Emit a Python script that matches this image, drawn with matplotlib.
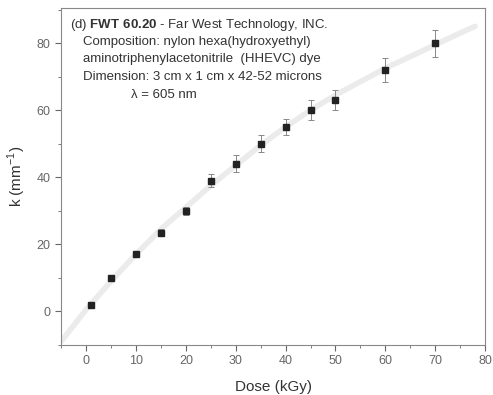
import matplotlib
matplotlib.use("Agg")
import matplotlib.pyplot as plt
from matplotlib.ticker import MultipleLocator

plt.rcParams["font.family"] = ["Liberation Sans", "DejaVu Sans"]
plt.rcParams["mathtext.fontset"] = "custom"
plt.rcParams["mathtext.rm"] = "Liberation Sans"
plt.rcParams["mathtext.bf"] = "Liberation Sans:bold"

# measured data
dose = [1, 5, 10, 15, 20, 25, 30, 35, 40, 45, 50, 60, 70]
k_val = [2, 10, 17, 23.5, 30, 39, 44, 50, 55, 60, 63, 72, 80]
k_err = [0.8, 0.8, 0.8, 1.0, 1.2, 2.0, 2.5, 2.5, 2.5, 3.0, 3.0, 3.5, 4.0]

# fitted curve
fit_x = [-5, 0, 5, 10, 15, 20, 25, 30, 35, 40, 45, 50, 55, 60, 65, 70, 75, 78]
fit_y = [-9, 0.5, 9, 17, 24.5, 31, 37.5, 43.5, 49.5, 55, 60, 64.5, 68.5, 72.5, 76, 79.5, 83, 85]

GREY = "#666666"

fig = plt.figure(figsize=(4.93, 3.95), dpi=100)
ax = fig.add_axes([0.124, 0.127, 0.86, 0.853])

ax.plot(fit_x, fit_y, color="#ebebeb", lw=4, solid_capstyle="round", zorder=1)
ax.errorbar(dose, k_val, yerr=k_err, fmt="s", color="#222222", ms=4,
            ecolor="#888888", elinewidth=0.7, capsize=2, capthick=0.7, zorder=3)

ax.set_xlim(-5, 80)
ax.set_ylim(-10, 90.5)
ax.xaxis.set_major_locator(MultipleLocator(10))
ax.xaxis.set_minor_locator(MultipleLocator(5))
ax.yaxis.set_major_locator(MultipleLocator(20))
ax.yaxis.set_minor_locator(MultipleLocator(10))
ax.tick_params(which="both", direction="out", colors=GREY, labelsize=9,
               top=False, right=False)
ax.tick_params(which="major", length=4)
ax.tick_params(which="minor", length=2)
for s in ax.spines.values():
    s.set_color("#888888")
    s.set_linewidth(0.8)

ax.set_xlabel("Dose (kGy)", fontsize=11, color="#333333", labelpad=9)
ax.set_ylabel("k (mm$^{-1}$)", fontsize=11, color="#333333", labelpad=6)

lines = [
    (70, 25, r"(d) $\mathbf{FWT\ 60.20}$ - Far West Technology, INC."),
    (83, 42, "Composition: nylon hexa(hydroxyethyl)"),
    (83, 59, "aminotriphenylacetonitrile  (HHEVC) dye"),
    (83, 77, "Dimension: 3 cm x 1 cm x 42-52 microns"),
    (131, 95, "λ = 605 nm"),
]
for px, py, txt in lines:
    fig.text(px / 493, 1 - py / 395, txt, fontsize=9.5, color="#333333",
             va="center", ha="left")

fig.savefig("out.png", dpi=100)
